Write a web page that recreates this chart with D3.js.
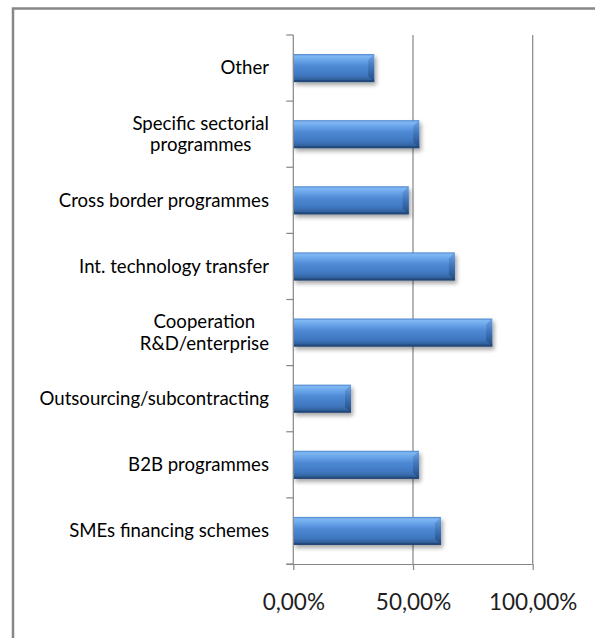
<!DOCTYPE html>
<html>
<head>
<meta charset="utf-8">
<script src="https://cdn.jsdelivr.net/npm/d3@7/dist/d3.min.js"></script>
<style>
  html, body { margin: 0; padding: 0; background: #fff; }
  svg { display: block; }
</style>
</head>
<body>
<svg id="chart" width="595" height="638"></svg>
<script>
// ---- data (top to bottom as displayed) ----
const categories = [
  "Other",
  "Specific sectorial\nprogrammes",
  "Cross border programmes",
  "Int. technology transfer",
  "Cooperation\nR&D/enterprise",
  "Outsourcing/subcontracting",
  "B2B programmes",
  "SMEs financing schemes"
];
const values = [0.338, 0.526, 0.482, 0.675, 0.831, 0.241, 0.525, 0.617];
const xTicks = [0, 0.5, 1];

// ---- layout ----
const svg = d3.select("#chart");
const plot = { left: 293.3, right: 532.7, top: 35, bottom: 564 };
const labelFont = "Lato, 'Open Sans', sans-serif";

const x = d3.scaleLinear().domain([0, 1]).range([plot.left, plot.right]);
const y = d3.scaleBand().domain(categories).range([plot.top, plot.bottom])
  .paddingInner(0.576).paddingOuter(0.288);
const step = y.step();

// outer border (extends past right/bottom edges)
svg.append("rect")
  .attr("x", 13).attr("y", 8.5).attr("width", 640).attr("height", 700)
  .attr("fill", "#fff").attr("stroke", "#878787").attr("stroke-width", 2.5);

const defs = svg.append("defs");
const g1 = defs.append("linearGradient").attr("id", "barGrad")
  .attr("x1", 0).attr("y1", 0).attr("x2", 0).attr("y2", 1);
[[0, "#4a82cc"], [0.07, "#80b8f3"], [0.22, "#6aa5ea"], [0.42, "#4f8ad5"],
 [0.75, "#3f77c0"], [0.9, "#32639f"], [1, "#244b7d"]]
  .forEach(([o, c]) => g1.append("stop").attr("offset", o).attr("stop-color", c));
const g2 = defs.append("linearGradient").attr("id", "endGrad")
  .attr("x1", 0).attr("y1", 0).attr("x2", 0).attr("y2", 1);
[[0, "#6b9fe0"], [0.5, "#3b6fb2"], [1, "#22467a"]]
  .forEach(([o, c]) => g2.append("stop").attr("offset", o).attr("stop-color", c));
const shadow = defs.append("filter").attr("id", "shadow")
  .attr("x", "-10%").attr("y", "-30%").attr("width", "130%").attr("height", "180%");
shadow.append("feGaussianBlur").attr("in", "SourceAlpha").attr("stdDeviation", 2);
shadow.append("feOffset").attr("dx", 2).attr("dy", 3).attr("result", "ob");
shadow.append("feComponentTransfer").append("feFuncA").attr("type", "linear").attr("slope", 0.35);
const merge = shadow.append("feMerge");
merge.append("feMergeNode");
merge.append("feMergeNode").attr("in", "SourceGraphic");

// gridlines
svg.append("g").selectAll("line").data(xTicks.filter(t => t > 0)).join("line")
  .attr("x1", d => x(d)).attr("x2", d => x(d))
  .attr("y1", plot.top).attr("y2", plot.bottom)
  .attr("stroke", "#868686").attr("stroke-width", 1.2);

// bars
const bars = svg.append("g").selectAll("g").data(categories).join("g")
  .attr("filter", "url(#shadow)");
bars.append("rect")
  .attr("x", x(0)).attr("y", d => y(d))
  .attr("width", (d, i) => x(values[i]) - x(0))
  .attr("height", y.bandwidth())
  .attr("fill", "url(#barGrad)");
const bev = 6;
// right bevel facet
bars.append("path")
  .attr("d", (d, i) => {
    const x1 = x(values[i]), y0 = y(d), y1 = y0 + y.bandwidth();
    return `M${x1},${y0} L${x1 - bev},${y0 + bev} L${x1 - bev},${y1 - bev} L${x1},${y1} Z`;
  })
  .attr("fill", "url(#endGrad)").attr("opacity", 0.85);
// bottom dark edge
bars.append("rect")
  .attr("x", x(0)).attr("y", d => y(d) + y.bandwidth() - 2)
  .attr("width", (d, i) => x(values[i]) - x(0)).attr("height", 2)
  .attr("fill", "#1f416f").attr("opacity", 0.6);

// y axis line and ticks
const axisColor = "#868686";
svg.append("line")
  .attr("x1", plot.left).attr("x2", plot.left)
  .attr("y1", plot.top).attr("y2", plot.bottom)
  .attr("stroke", axisColor).attr("stroke-width", 1.2);
const yTickPos = d3.range(categories.length + 1).map(i => plot.top + i * step);
svg.append("g").selectAll("line").data(yTickPos).join("line")
  .attr("x1", plot.left - 7).attr("x2", plot.left)
  .attr("y1", d => d).attr("y2", d => d)
  .attr("stroke", axisColor).attr("stroke-width", 1.2);

// x axis
const xAxis = d3.axisBottom(x).tickValues(xTicks).tickSize(6)
  .tickFormat(d => (d * 100).toFixed(2).replace(".", ",") + "%");
const xg = svg.append("g").attr("transform", `translate(0,${plot.bottom})`).call(xAxis);
xg.select(".domain").attr("stroke", axisColor).attr("stroke-width", 1.2)
  .attr("d", `M${plot.left - 7},0.5H${plot.right}`);
xg.selectAll(".tick line").attr("stroke", axisColor).attr("stroke-width", 1.2);
xg.selectAll(".tick text")
  .attr("y", 46).attr("dy", 0)
  .attr("fill", "#1e1e1e")
  .style("font-family", labelFont).style("font-size", "22.5px");

// category labels
const labelRight = 269;
const lineH = 21.3;
const lg = svg.append("g");
categories.forEach((c, i) => {
  const lines = c.split("\n");
  const cy = y(c) + y.bandwidth() / 2;
  const t = lg.append("text")
    .attr("fill", "#000")
    .style("font-family", labelFont).style("font-size", "18.6px")
    .attr("text-anchor", "middle");
  const spans = lines.map((ln, k) => t.append("tspan").text(ln)
    .attr("y", cy + 6.3 + (k - (lines.length - 1) / 2) * lineH));
  const w = d3.max(spans, s => s.node().getComputedTextLength());
  spans.forEach(s => s.attr("x", labelRight - w / 2));
});
</script>
</body>
</html>
